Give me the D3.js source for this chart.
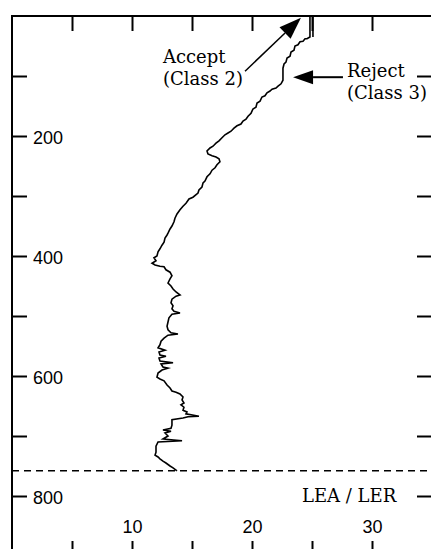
<!DOCTYPE html>
<html>
<head>
<meta charset="utf-8">
<script src="https://cdn.jsdelivr.net/npm/d3@7"></script>
<style>
  html, body { margin: 0; padding: 0; background: #fff; }
  svg { display: block; }
</style>
</head>
<body>
<svg id="chart" width="431" height="549"></svg>
<script>
// ---- Data (depth, LEA/LER ratio) ----
const depths = [35,0,0,35,38,38,42,43,48,50,57,60,67,70,77,80,87,107,113,117,120,122,125,128,133,135,142,145,152,155,162,167,172,175,180,183,187,192,195,198,203,208,212,217,220,225,230,233,235,238,243,248,253,257,263,268,275,278,285,290,295,302,305,312,317,323,330,337,343,350,355,362,365,370,377,382,388,393,400,403,408,412,415,417,418,423,427,433,438,445,450,455,460,465,467,472,478,483,488,492,495,497,503,510,517,523,528,530,532,537,542,548,553,557,560,565,567,570,575,578,580,585,587,590,595,602,605,608,615,620,625,627,630,635,640,645,648,652,657,660,663,667,668,670,673,682,687,690,692,695,700,705,708,710,717,727,732,735,738,742,745,750,753,758];
const ratios = [25.08,25.08,24.83,24.83,24.58,24.42,24.25,24.0,23.83,23.58,23.5,23.25,23.17,22.92,22.83,22.67,22.58,22.58,22.42,22.17,22.0,21.67,21.5,21.25,21.08,20.83,20.67,20.42,20.33,20.08,19.92,19.67,19.5,19.25,19.08,18.75,18.5,18.25,18.0,17.75,17.5,17.25,17.0,16.75,16.5,16.25,16.33,16.67,17.0,17.25,17.33,17.08,16.92,16.67,16.5,16.25,16.08,15.92,15.83,15.58,15.5,15.08,14.75,14.5,14.25,14.0,13.75,13.58,13.5,13.33,13.17,13.0,12.92,12.75,12.67,12.5,12.33,12.17,12.08,11.83,12.0,11.67,11.92,12.33,12.67,12.83,13.17,13.33,13.17,13.0,13.25,13.42,13.67,14.0,13.67,13.33,13.25,13.42,13.33,13.5,14.0,13.33,13.08,13.0,12.92,13.0,13.25,13.83,13.0,12.67,12.42,12.33,12.17,12.75,12.25,12.33,12.83,12.25,12.33,13.42,12.42,12.58,13.0,12.5,12.17,12.08,12.33,12.67,12.92,13.17,13.33,13.67,14.0,14.25,14.17,14.33,14.08,14.33,14.25,14.58,14.5,15.58,14.67,14.25,13.33,13.33,13.25,12.58,13.25,12.75,13.0,12.58,14.17,12.17,12.0,12.0,11.92,12.17,12.33,12.58,12.83,13.17,13.42,13.75];

const thresholdDepth = 758;            // dashed line
const xDomain = [0, 35];
const yDomain = [0, 900];
const xTicks = [5, 10, 15, 20, 25, 30];
const xLabels = [10, 20, 30];
const yTicks = [100, 200, 300, 400, 500, 600, 700, 800];
const yLabels = [200, 400, 600, 800];
const axisTitle = "LEA / LER";

// annotations: [ratio, depth] anchors (first text baseline)
const acceptText = ["Accept", "(Class 2)"];
const acceptTextPos = [12.58, 78];
const acceptArrow = { from: [19.42, 92], to: [24.08, 3] };
const rejectText = ["Reject", "(Class 3)"];
const rejectTextPos = [27.92, 101];
const rejectArrow = { from: [27.58, 102], to: [23.42, 102] };

// ---- Drawing ----
const svg = d3.select("#chart");
const x = d3.scaleLinear().domain(xDomain).range([12, 432]);
const y = d3.scaleLinear().domain(yDomain).range([16, 556]);

const sansFont = "'Liberation Sans', Arial, sans-serif";
const serifFont = "'DejaVu Serif', serif";

// frame
svg.append("rect")
  .attr("x", x(0)).attr("y", y(0))
  .attr("width", x(35) - x(0)).attr("height", y(900) - y(0))
  .attr("fill", "none").attr("stroke", "#000").attr("stroke-width", 2);

function styleAxis(g) {
  g.select(".domain").remove();
  g.selectAll(".tick line").attr("stroke", "#000").attr("stroke-width", 2);
  g.selectAll(".tick text").attr("fill", "#000")
    .style("font-family", sansFont).style("font-size", "18px");
}

// top axis (ticks only, pointing inward)
svg.append("g").attr("transform", `translate(0,${y(0)})`)
  .call(d3.axisTop(x).tickValues(xTicks).tickSize(-15).tickFormat(""))
  .call(styleAxis);

// bottom axis
const gb = svg.append("g").attr("transform", `translate(0,${y(900)})`)
  .call(d3.axisBottom(x).tickValues(xTicks).tickSize(-15)
    .tickFormat(d => xLabels.includes(d) ? String(d) : ""))
  .call(styleAxis);
gb.selectAll(".tick text").attr("y", 533 - y(900)).attr("dy", 0);

// left axis
const gl = svg.append("g").attr("transform", `translate(${x(0)},0)`)
  .call(d3.axisLeft(y).tickValues(yTicks).tickSize(-15)
    .tickFormat(d => yLabels.includes(d) ? String(d) : ""))
  .call(styleAxis);
gl.selectAll(".tick text").attr("x", 21).attr("text-anchor", "start").attr("dy", "0.4em");

// right axis
svg.append("g").attr("transform", `translate(${x(35)},0)`)
  .call(d3.axisRight(y).tickValues(yTicks).tickSize(-15).tickFormat(""))
  .call(styleAxis);

// threshold dashed line
svg.append("line")
  .attr("x1", x(0)).attr("x2", x(35))
  .attr("y1", y(thresholdDepth)).attr("y2", y(thresholdDepth))
  .attr("stroke", "#000").attr("stroke-width", 1.5)
  .attr("stroke-dasharray", "7,5");

// data line
const pts = depths.map((d, i) => [ratios[i], d]);
svg.append("path")
  .datum(pts)
  .attr("fill", "none").attr("stroke", "#000").attr("stroke-width", 1.6)
  .attr("stroke-linejoin", "miter")
  .attr("d", d3.line().x(p => x(p[0])).y(p => y(p[1])));

// axis title
svg.append("text")
  .attr("x", 302).attr("y", 502)
  .style("font-family", serifFont).style("font-size", "18px")
  .text(axisTitle);

// annotations
function arrow(a, headLen, headHalf, lineW) {
  const x1 = x(a.from[0]), y1 = y(a.from[1]);
  const x2 = x(a.to[0]), y2 = y(a.to[1]);
  const ang = Math.atan2(y2 - y1, x2 - x1);
  const bx = x2 - headLen * Math.cos(ang), by = y2 - headLen * Math.sin(ang);
  svg.append("line").attr("x1", x1).attr("y1", y1).attr("x2", bx).attr("y2", by)
    .attr("stroke", "#000").attr("stroke-width", lineW);
  const px = -Math.sin(ang) * headHalf, py = Math.cos(ang) * headHalf;
  svg.append("path")
    .attr("d", `M${x2},${y2}L${bx + px},${by + py}L${bx - px},${by - py}Z`)
    .attr("fill", "#000");
}
arrow(acceptArrow, 22, 8, 1.5);
arrow(rejectArrow, 20, 7, 2);

function label(lines, pos, gap) {
  const t = svg.append("text")
    .attr("x", x(pos[0])).attr("y", y(pos[1]))
    .style("font-family", serifFont).style("font-size", "18px").attr("fill", "#000");
  lines.forEach((s, i) => t.append("tspan").attr("x", x(pos[0])).attr("dy", i === 0 ? 0 : gap).text(s));
}
label(acceptText, acceptTextPos, 22);
label(rejectText, rejectTextPos, 22);
</script>
</body>
</html>
